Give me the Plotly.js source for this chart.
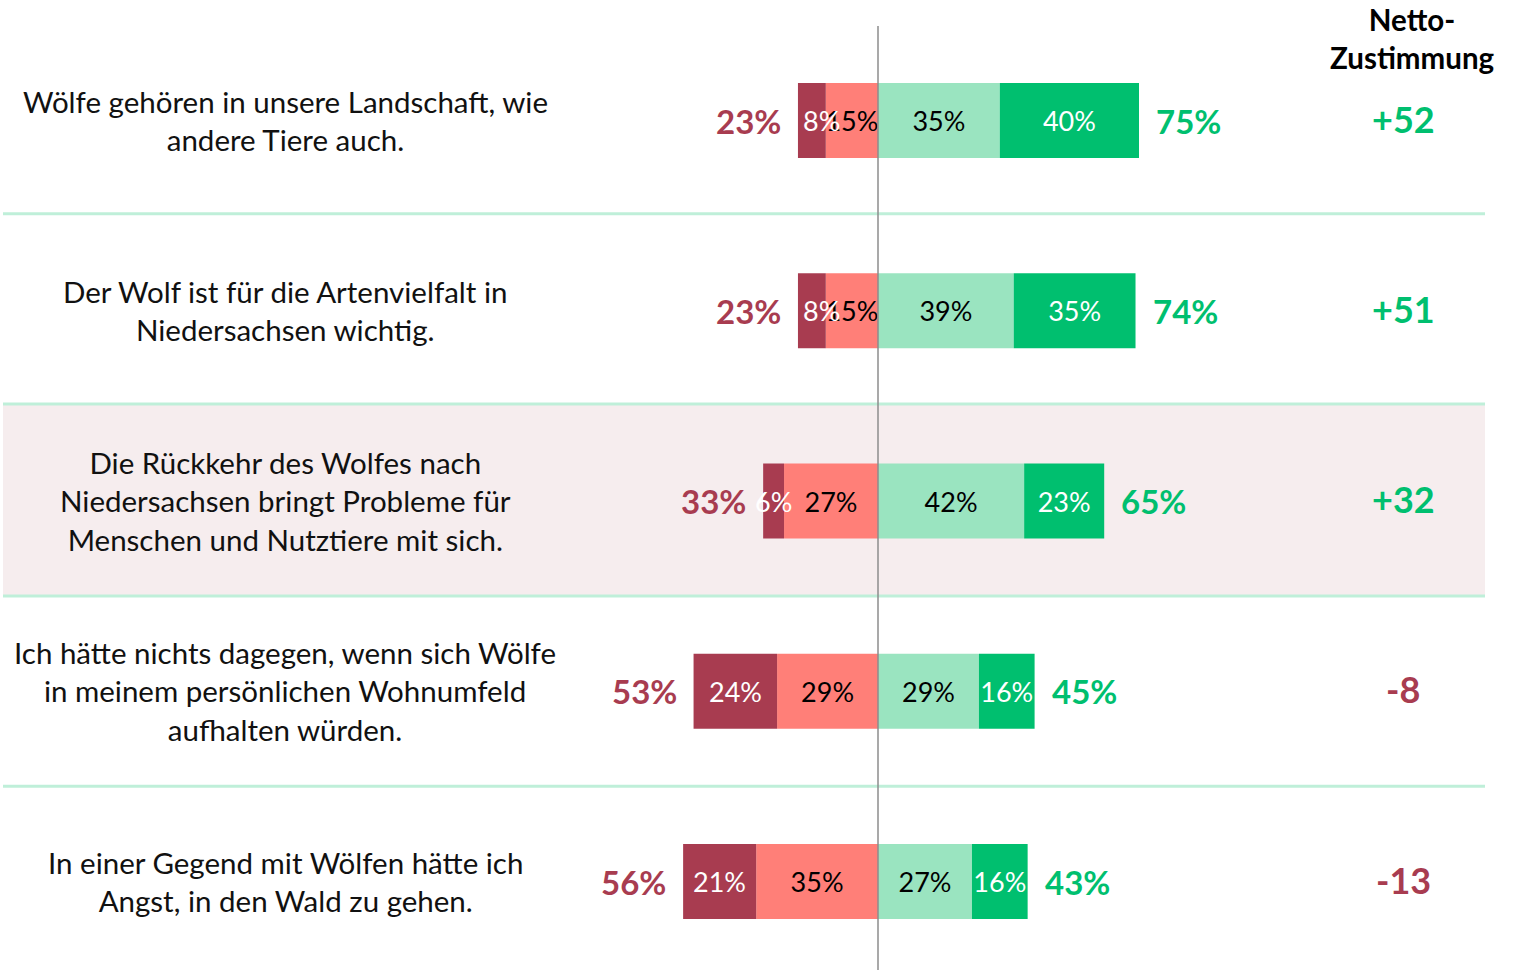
<!DOCTYPE html>
<html>
<head>
<meta charset="utf-8">
<script src="https://cdn.plot.ly/plotly-3.0.1.min.js"></script>
<style>html,body{margin:0;padding:0;background:#fff;}#chart{width:1524px;height:972px;}</style>
</head>
<body>
<div id="chart"></div>
<script>
const questions = [
  "Wölfe gehören in unsere Landschaft, wie<br>andere Tiere auch.",
  "Der Wolf ist für die Artenvielfalt in<br>Niedersachsen wichtig.",
  "Die Rückkehr des Wolfes nach<br>Niedersachsen bringt Probleme für<br>Menschen und Nutztiere mit sich.",
  "Ich hätte nichts dagegen, wenn sich Wölfe<br>in meinem persönlichen Wohnumfeld<br>aufhalten würden.",
  "In einer Gegend mit Wölfen hätte ich<br>Angst, in den Wald zu gehen."
];
const strongDisagree = [8, 8, 6, 24, 21];
const disagree       = [15, 15, 27, 29, 35];
const agree          = [35, 39, 42, 29, 27];
const strongAgree    = [40, 35, 23, 16, 16];
const negTotal = [23, 23, 33, 53, 56];
const posTotal = [75, 74, 65, 45, 43];
const netAgree = ["+52", "+51", "+32", "-8", "-13"];
const headerText = "Netto-<br>Zustimmung";

const C_DR = "#A83C50", C_LR = "#FF7F78", C_LG = "#9AE4C0", C_DG = "#00BF6F";
const FONT = "Lato, 'Open Sans', sans-serif";
const rows = questions.map((_, i) => i);
const BW = 0.394;
const LABEL_SIZE = 27;

function barTrace(vals, sign, color, txtColor, withText) {
  return {
    type: "bar", orientation: "h",
    y: rows, x: vals.map(v => sign * v),
    width: BW,
    marker: {color: color, line: {width: 0}},
    text: withText ? vals.map(v => v + "%") : undefined,
    textposition: withText ? "inside" : "none", insidetextanchor: "middle", textangle: 0,
    constraintext: "none",
    textfont: {family: FONT, size: LABEL_SIZE, color: txtColor},
    cliponaxis: false,
    hoverinfo: "skip"
  };
}

const data = [
  barTrace(disagree, -1, C_LR, "#000", true),
  barTrace(strongDisagree, -1, C_DR, "#fff", false),
  barTrace(agree, 1, C_LG, "#000", true),
  barTrace(strongAgree, 1, C_DG, "#fff", true)
];

const annotations = [];
rows.forEach(i => {
  // strong-disagree labels (narrow segments: label nudged as in the original)
  annotations.push({x: -(disagree[i] + strongDisagree[i] / 2), y: i, text: strongDisagree[i] + "%",
    showarrow: false, xanchor: "center", yanchor: "middle",
    xshift: (i < 2 ? 10 : 0),
    font: {family: FONT, size: LABEL_SIZE, color: "#fff"}});
  annotations.push({x: 285/1524, xref: "paper", y: i, yref: "y", text: questions[i],
    showarrow: false, xanchor: "center", yanchor: "middle", align: "center",
    font: {family: FONT, size: 29.5, color: "#111"}});
  annotations.push({x: -(strongDisagree[i] + disagree[i]), y: i, text: "<b>" + negTotal[i] + "%</b>",
    showarrow: false, xanchor: "right", yanchor: "middle", xshift: -15,
    font: {family: FONT, size: 33, color: C_DR}});
  annotations.push({x: agree[i] + strongAgree[i], y: i, text: "<b>" + posTotal[i] + "%</b>",
    showarrow: false, xanchor: "left", yanchor: "middle", xshift: 15,
    font: {family: FONT, size: 33, color: C_DG}});
  annotations.push({x: 1403/1524, xref: "paper", y: i, yref: "y", text: "<b>" + netAgree[i] + "</b>",
    showarrow: false, xanchor: "center", yanchor: "middle", yshift: 2,
    font: {family: FONT, size: 36, color: netAgree[i].startsWith("-") ? C_DR : C_DG}});
});
annotations.push({x: 1412/1524, xref: "paper", y: 1 - 39/972, yref: "paper", text: "<b>" + headerText + "</b>",
  showarrow: false, xanchor: "center", yanchor: "middle", align: "center",
  font: {family: FONT, size: 29.5, color: "#000"}});

const x0 = 3/1524, x1 = 1485/1524;
const shapes = [
  {type: "rect", xref: "paper", yref: "y", x0: x0, x1: x1, y0: 1.49, y1: 2.5, fillcolor: "#F6EDEE", line: {width: 0}, layer: "below"}
];
[0.49, 1.49, 2.5, 3.5].forEach(y => shapes.push({type: "line", xref: "paper", yref: "y", x0: x0, x1: x1, y0: y, y1: y,
  line: {color: "#BFEFD9", width: 3}, layer: "below"}));
shapes.push({type: "line", xref: "x", yref: "y", x0: 0, x1: 0, y0: -0.497, y1: 4.465, line: {color: "#8C8C8C", width: 1.5}, layer: "above"});

const layout = {
  width: 1524, height: 972,
  margin: {l: 0, r: 0, t: 0, b: 0, pad: 0},
  paper_bgcolor: "#fff", plot_bgcolor: "rgba(0,0,0,0)",
  barmode: "relative", showlegend: false,
  uniformtext: {mode: "show", minsize: LABEL_SIZE},
  xaxis: {range: [-878/3.48, (1524-878)/3.48], visible: false, fixedrange: true},
  yaxis: {range: [(972-120.5)/190.25, -120.5/190.25], visible: false, fixedrange: true},
  shapes: shapes, annotations: annotations,
  font: {family: FONT}
};

Plotly.newPlot("chart", data, layout, {displayModeBar: false, staticPlot: true});
</script>
</body>
</html>
